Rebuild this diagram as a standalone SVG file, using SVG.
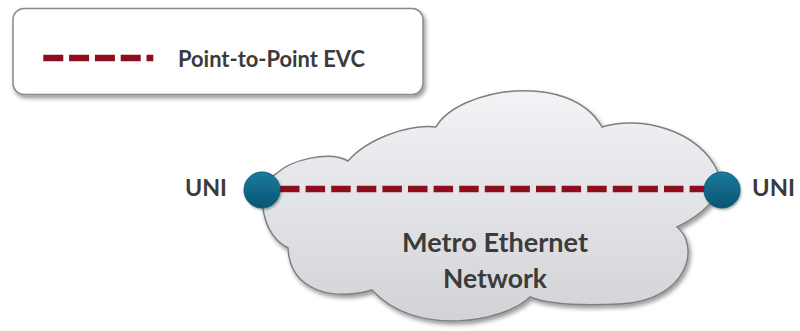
<svg xmlns="http://www.w3.org/2000/svg" width="800" height="331" viewBox="0 0 800 331">
  <defs>
    <linearGradient id="cloudFill" x1="0" y1="0" x2="0" y2="1">
      <stop offset="0" stop-color="#F2F3F5"/>
      <stop offset="1" stop-color="#D2D3D7"/>
    </linearGradient>
    <linearGradient id="dotFill" x1="0" y1="0" x2="0" y2="1">
      <stop offset="0" stop-color="#1B7B9C"/>
      <stop offset="1" stop-color="#0A5472"/>
    </linearGradient>
    <filter id="shadow" x="-10%" y="-10%" width="125%" height="135%">
      <feDropShadow dx="2" dy="3" stdDeviation="2.2" flood-color="#000" flood-opacity="0.4"/>
    </filter>
    <filter id="dotShadow" x="-30%" y="-30%" width="170%" height="170%">
      <feDropShadow dx="1" dy="1.5" stdDeviation="1.2" flood-color="#000" flood-opacity="0.35"/>
    </filter>
  </defs>
  <style>
    .lbl { font-family: Lato, "Open Sans", "Liberation Sans", sans-serif; font-weight: bold; fill: #3B3B3B; }
    .evc { stroke: #8E0E1F; stroke-width: 6.6; fill: none; }
    .dot { fill: url(#dotFill); stroke: #0C5E7C; stroke-width: 1; filter: url(#dotShadow); }
  </style>

  <g id="legend">
    <rect x="13" y="8.5" width="410" height="86" rx="11" ry="11" fill="#FFFFFF" stroke="#8A8A8A" stroke-width="1.5" filter="url(#shadow)"/>
    <line class="evc" x1="43.3" y1="58" x2="153.3" y2="58" stroke-dasharray="20 5.8"/>
    <text class="lbl" x="178" y="66.5" font-size="23.5" textLength="187" lengthAdjust="spacingAndGlyphs">Point-to-Point EVC</text>
  </g>

  <g id="cloud">
    <path d="M 262,195 C 262,185 268,178 276,174 C 290,160 330,150 348,161 C 368,138 410,124 436,127 C 458,88 570,70 602,127 C 640,115 700,130 718,172 C 725,188 712,210 677,227 C 700,245 690,300 620,304 C 580,306 550,305 530,297 C 505,322 415,338 372,290 C 340,300 290,295 288,248 C 272,240 262,222 262,195 Z" fill="url(#cloudFill)" stroke="#7F7F7F" stroke-width="1.5" filter="url(#shadow)"/>
    <text class="lbl" x="495" y="252" font-size="26.5" text-anchor="middle" textLength="186" lengthAdjust="spacingAndGlyphs">Metro Ethernet</text>
    <text class="lbl" x="495" y="288" font-size="26.5" text-anchor="middle" textLength="104" lengthAdjust="spacingAndGlyphs">Network</text>
  </g>

  <g id="connectors">
    <line class="evc" x1="280" y1="189" x2="705" y2="189" stroke-dasharray="19.5 6.1"/>
  </g>

  <g id="uni-left">
    <circle class="dot" cx="262" cy="190" r="18"/>
    <text class="lbl" x="185" y="196" font-size="23" textLength="42" lengthAdjust="spacingAndGlyphs">UNI</text>
  </g>

  <g id="uni-right">
    <circle class="dot" cx="722" cy="190" r="18"/>
    <text class="lbl" x="752" y="196" font-size="23" textLength="43" lengthAdjust="spacingAndGlyphs">UNI</text>
  </g>
</svg>
